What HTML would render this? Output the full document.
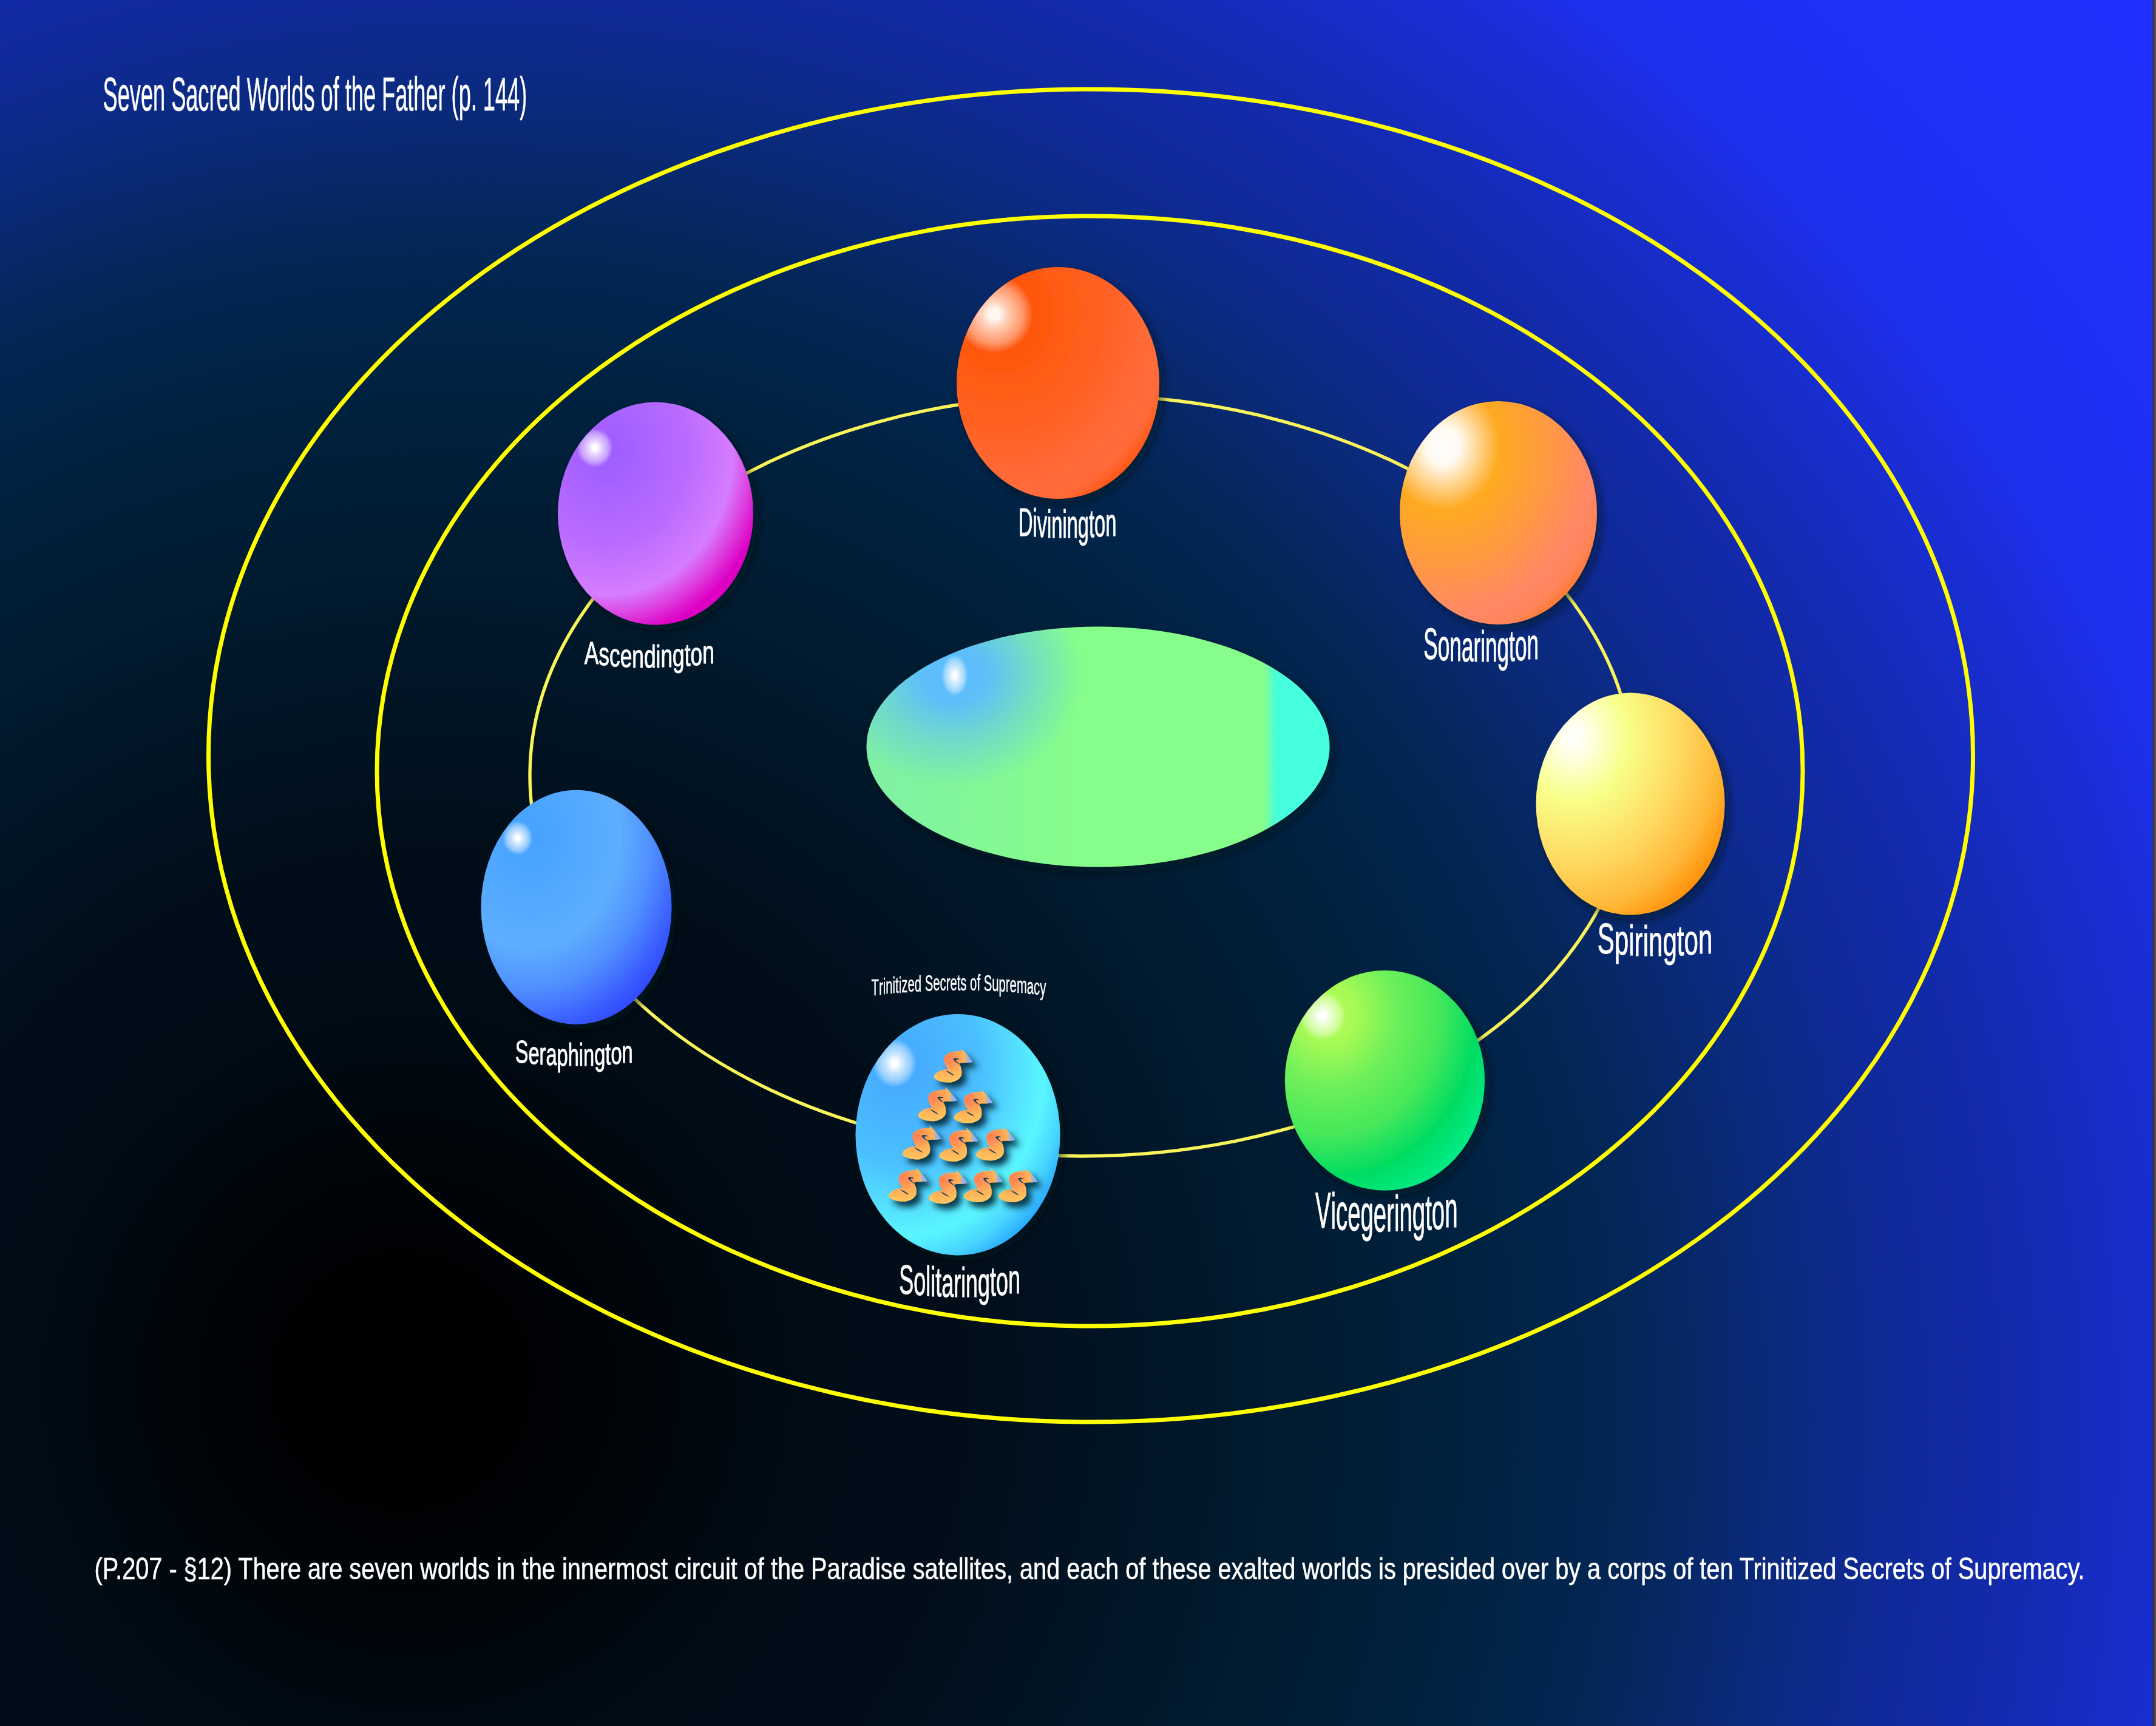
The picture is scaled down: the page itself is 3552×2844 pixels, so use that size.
<!DOCTYPE html>
<html><head><meta charset="utf-8"><title>Seven Sacred Worlds of the Father</title>
<style>
html,body{margin:0;padding:0;background:#000;width:3552px;height:2844px;overflow:hidden}
svg{display:block}
text{font-family:"Liberation Sans",sans-serif;fill:#fff}
</style></head><body>
<svg width="3552" height="2844" viewBox="0 0 3552 2844">
<defs>
<radialGradient id="bg" gradientUnits="userSpaceOnUse" fx="650" fy="2270" cx="850" cy="2370" r="3600">
<stop offset="0" stop-color="#000000"/>
<stop offset="0.06" stop-color="#000103"/>
<stop offset="0.12" stop-color="#00060b"/>
<stop offset="0.17" stop-color="#000b15"/>
<stop offset="0.25" stop-color="#010e1a"/>
<stop offset="0.40" stop-color="#011c32"/>
<stop offset="0.46" stop-color="#00213e"/>
<stop offset="0.50" stop-color="#01244a"/>
<stop offset="0.53" stop-color="#032654"/>
<stop offset="0.60" stop-color="#0a2a7c"/>
<stop offset="0.65" stop-color="#0f2a98"/>
<stop offset="0.70" stop-color="#122aab"/>
<stop offset="0.79" stop-color="#1a2ed8"/>
<stop offset="0.82" stop-color="#1d30ec"/>
<stop offset="0.9" stop-color="#1f30f8"/>
<stop offset="1" stop-color="#2030ff"/>
</radialGradient>
<filter id="sh" x="-20%" y="-20%" width="150%" height="150%">
<feDropShadow dx="7" dy="8" stdDeviation="8" flood-color="#000814" flood-opacity="0.55"/>
</filter>
<filter id="shs" x="-30%" y="-30%" width="170%" height="170%">
<feDropShadow dx="8" dy="9" stdDeviation="5.5" flood-color="#062838" flood-opacity="0.9"/>
</filter>
<radialGradient id="hl" cx="0.5" cy="0.5" r="0.5">
<stop offset="0" stop-color="#fff" stop-opacity="1"/>
<stop offset="0.14" stop-color="#fff" stop-opacity="1"/>
<stop offset="0.35" stop-color="#fff" stop-opacity="0.75"/>
<stop offset="0.75" stop-color="#fff" stop-opacity="0.4"/>
<stop offset="1" stop-color="#fff" stop-opacity="0"/>
</radialGradient>
<!-- Divinington -->
<radialGradient id="gDiv" cx="0.22" cy="0.2" r="0.95">
<stop offset="0" stop-color="#ff5200"/>
<stop offset="0.5" stop-color="#ff6020"/>
<stop offset="0.82" stop-color="#ff6c3c"/>
<stop offset="0.89" stop-color="#ff6a36"/>
<stop offset="0.96" stop-color="#ff5614"/>
<stop offset="1" stop-color="#ff5010"/>
</radialGradient>
<!-- Ascendington -->
<radialGradient id="gAsc" cx="0.25" cy="0.22" r="0.95">
<stop offset="0" stop-color="#9c5cff"/>
<stop offset="0.45" stop-color="#bb6cff"/>
<stop offset="0.68" stop-color="#d67cff"/>
<stop offset="0.78" stop-color="#dd40e0"/>
<stop offset="0.88" stop-color="#dd00c4"/>
<stop offset="1" stop-color="#dd00bb"/>
</radialGradient>
<!-- Seraphington -->
<radialGradient id="gSer" cx="0.25" cy="0.2" r="0.95">
<stop offset="0" stop-color="#44a2ff"/>
<stop offset="0.5" stop-color="#5eaeff"/>
<stop offset="0.68" stop-color="#5090ff"/>
<stop offset="0.86" stop-color="#3a5cff"/>
<stop offset="1" stop-color="#2a3cff"/>
</radialGradient>
<!-- Solitarington -->
<radialGradient id="gSol" cx="0.22" cy="0.22" r="0.95">
<stop offset="0" stop-color="#44a6ff"/>
<stop offset="0.42" stop-color="#4cc0ff"/>
<stop offset="0.74" stop-color="#5af6ff"/>
<stop offset="0.85" stop-color="#48d6ff"/>
<stop offset="0.95" stop-color="#28a8ff"/>
<stop offset="1" stop-color="#2098ff"/>
</radialGradient>
<!-- Vicegerington -->
<radialGradient id="gVic" cx="0.22" cy="0.2" r="0.95">
<stop offset="0" stop-color="#b4ff55"/>
<stop offset="0.14" stop-color="#a8fa55"/>
<stop offset="0.34" stop-color="#70f05a"/>
<stop offset="0.58" stop-color="#45e85a"/>
<stop offset="0.78" stop-color="#00dc62"/>
<stop offset="1" stop-color="#00f090"/>
</radialGradient>
<!-- Spirington -->
<radialGradient id="gSpi" cx="0.2" cy="0.2" r="0.95">
<stop offset="0" stop-color="#ffffff"/>
<stop offset="0.06" stop-color="#fffff0"/>
<stop offset="0.3" stop-color="#f8ff88"/>
<stop offset="0.6" stop-color="#ffd860"/>
<stop offset="0.82" stop-color="#ffb838"/>
<stop offset="1" stop-color="#ff8a00"/>
</radialGradient>
<!-- Sonarington -->
<radialGradient id="gSon" cx="0.22" cy="0.2" r="0.95">
<stop offset="0" stop-color="#ffffff"/>
<stop offset="0.09" stop-color="#fffaf0"/>
<stop offset="0.3" stop-color="#ffaa22"/>
<stop offset="0.55" stop-color="#ff9a40"/>
<stop offset="0.8" stop-color="#ff8866"/>
<stop offset="0.9" stop-color="#ff8458"/>
<stop offset="1" stop-color="#ff7418"/>
</radialGradient>
<!-- central green -->
<linearGradient id="gCen" x1="0" y1="0" x2="1" y2="0">
<stop offset="0" stop-color="#80f0a4"/>
<stop offset="0.45" stop-color="#87fd8b"/>
<stop offset="0.858" stop-color="#87fd8b"/>
<stop offset="0.886" stop-color="#44ffdd"/>
<stop offset="1" stop-color="#44ffdd"/>
</linearGradient>
<radialGradient id="gCenB" gradientUnits="userSpaceOnUse" cx="1572" cy="1112" r="185" gradientTransform="translate(1572 1112) scale(1.15 1) translate(-1572 -1112)">
<stop offset="0" stop-color="#5cbcff" stop-opacity="1"/>
<stop offset="0.25" stop-color="#5cbcff" stop-opacity="0.95"/>
<stop offset="0.6" stop-color="#5cbcff" stop-opacity="0.45"/>
<stop offset="1" stop-color="#5cbcff" stop-opacity="0"/>
</radialGradient>
<radialGradient id="gS" cx="0.35" cy="0.3" r="0.75">
<stop offset="0" stop-color="#ff8050"/>
<stop offset="0.25" stop-color="#ff9255"/>
<stop offset="0.6" stop-color="#ffb458"/>
<stop offset="1" stop-color="#ffc860"/>
</radialGradient>
<linearGradient id="gSt" x1="0" y1="0" x2="1" y2="0">
<stop offset="0" stop-color="#88b0ff" stop-opacity="0"/>
<stop offset="0.8" stop-color="#88b0ff" stop-opacity="0"/>
<stop offset="0.9" stop-color="#88b0ff" stop-opacity="0.95"/>
<stop offset="1" stop-color="#88b0ff" stop-opacity="1"/>
</linearGradient>
<path id="sg" d="M52.7 7.9 C58 13 66 21 71.8 30 C66 31.3 60 31.4 54.3 31.4 C51 31.8 49.5 32.5 50 34 C53 38 54.2 44 53.7 50 C53 57 46 61.5 36.5 63.6 C26 64.5 12 62 8 55.5 C7 51 14 45 24 42.6 C26 42.2 28 42 30.8 41.8 C27.5 37 24.5 31 24.7 25 C25 18 33 13.5 45 12.5 C49 12.2 52 12 53.9 11.8 Z"/>
<path id="sgs" d="M50.5 25.6 C46 23.2 42 23.2 39.8 25.2 C42 29.5 47 32.5 51.5 34 C47.5 31 44.5 28.5 43.6 26.4 C45.5 25.6 48 25.8 50.5 25.6 Z M27.5 44 C32.5 46 37.5 48.5 42 52.5 C37.5 51.5 31.5 48.5 27.5 44 Z"/>
</defs>

<rect x="0" y="0" width="3552" height="2844" fill="url(#bg)"/>
<linearGradient id="gStrip" gradientUnits="userSpaceOnUse" x1="3546.5" y1="0" x2="3552" y2="0">
<stop offset="0" stop-color="#30322a"/>
<stop offset="0.35" stop-color="#3f3835"/>
<stop offset="0.6" stop-color="#474944"/>
<stop offset="1" stop-color="#5e5a5c"/>
</linearGradient>
<rect x="3546.6" y="0" width="5.4" height="2844" fill="url(#gStrip)"/>

<!-- orbits -->
<ellipse cx="1797" cy="1245" rx="1453.5" ry="1098" fill="none" stroke="#ffff00" stroke-width="7"/>
<ellipse cx="1795.5" cy="1270.5" rx="1174.5" ry="914.5" fill="none" stroke="#ffff00" stroke-width="7"/>
<ellipse cx="1782" cy="1278" rx="909" ry="627" fill="none" stroke="#f9f45a" stroke-width="5.4"/>

<!-- central ellipse -->
<g filter="url(#sh)">
<ellipse cx="1809" cy="1230.5" rx="381.5" ry="198" fill="url(#gCen)"/>
</g>
<clipPath id="cpCen"><ellipse cx="1809" cy="1230.5" rx="381.5" ry="198"/></clipPath>
<g clip-path="url(#cpCen)">
<ellipse cx="1572" cy="1115" rx="300" ry="260" fill="url(#gCenB)"/>
</g>
<ellipse cx="1573" cy="1113" rx="22" ry="34" fill="url(#hl)"/>

<!-- planets -->
<clipPath id="cDiv"><ellipse cx="1743" cy="631" rx="167" ry="191"/></clipPath>
<clipPath id="cAsc"><ellipse cx="1080" cy="846" rx="161" ry="183.5"/></clipPath>
<clipPath id="cSer"><ellipse cx="949.5" cy="1494.8" rx="157" ry="193"/></clipPath>
<clipPath id="cSol"><ellipse cx="1578" cy="1869.7" rx="168.5" ry="198.7"/></clipPath>
<clipPath id="cVic"><ellipse cx="2281.4" cy="1780.3" rx="164.6" ry="181.2"/></clipPath>

<ellipse cx="1743" cy="631" rx="167" ry="191" fill="url(#gDiv)" filter="url(#sh)"/>
<g clip-path="url(#cDiv)"><ellipse cx="1638" cy="518" rx="64" ry="64" fill="url(#hl)" opacity="0.95"/></g>

<ellipse cx="1080" cy="846" rx="161" ry="183.5" fill="url(#gAsc)" filter="url(#sh)"/>
<g clip-path="url(#cAsc)"><ellipse cx="980" cy="738" rx="30" ry="32" fill="url(#hl)"/></g>

<ellipse cx="949.5" cy="1494.8" rx="157" ry="193" fill="url(#gSer)" filter="url(#sh)"/>
<g clip-path="url(#cSer)"><ellipse cx="853" cy="1381" rx="25" ry="28" fill="url(#hl)"/></g>

<ellipse cx="1578" cy="1869.7" rx="168.5" ry="198.7" fill="url(#gSol)" filter="url(#sh)"/>
<g clip-path="url(#cSol)"><ellipse cx="1474" cy="1752" rx="36" ry="40" fill="url(#hl)"/></g>

<ellipse cx="2281.4" cy="1780.3" rx="164.6" ry="181.2" fill="url(#gVic)" filter="url(#sh)"/>
<g clip-path="url(#cVic)"><ellipse cx="2179" cy="1674" rx="38" ry="40" fill="url(#hl)"/></g>

<ellipse cx="2686" cy="1324.6" rx="155.5" ry="183" fill="url(#gSpi)" filter="url(#sh)"/>

<ellipse cx="2468.5" cy="845" rx="162.5" ry="184" fill="url(#gSon)" filter="url(#sh)"/>

<!-- S glyphs -->
<g fill="url(#gS)" filter="url(#shs)">
<use href="#sg" transform="translate(1530.6 1719.8)"/>
<use href="#sg" transform="translate(1504.5 1783.4)"/>
<use href="#sg" transform="translate(1563.6 1786.9)"/>
<use href="#sg" transform="translate(1478.5 1846.6)"/>
<use href="#sg" transform="translate(1539.3 1850.1)"/>
<use href="#sg" transform="translate(1600.1 1848.4)"/>
<use href="#sg" transform="translate(1456 1916)"/>
<use href="#sg" transform="translate(1522 1919.6)"/>
<use href="#sg" transform="translate(1580 1917)"/>
<use href="#sg" transform="translate(1637.3 1917)"/>
</g>
<g fill="url(#gSt)">
<use href="#sg" transform="translate(1530.6 1719.8)"/>
<use href="#sg" transform="translate(1504.5 1783.4)"/>
<use href="#sg" transform="translate(1563.6 1786.9)"/>
<use href="#sg" transform="translate(1478.5 1846.6)"/>
<use href="#sg" transform="translate(1539.3 1850.1)"/>
<use href="#sg" transform="translate(1600.1 1848.4)"/>
<use href="#sg" transform="translate(1456 1916)"/>
<use href="#sg" transform="translate(1522 1919.6)"/>
<use href="#sg" transform="translate(1580 1917)"/>
<use href="#sg" transform="translate(1637.3 1917)"/>
</g>
<g fill="#0c3c5c">
<use href="#sgs" transform="translate(1530.6 1719.8)"/>
<use href="#sgs" transform="translate(1504.5 1783.4)"/>
<use href="#sgs" transform="translate(1563.6 1786.9)"/>
<use href="#sgs" transform="translate(1478.5 1846.6)"/>
<use href="#sgs" transform="translate(1539.3 1850.1)"/>
<use href="#sgs" transform="translate(1600.1 1848.4)"/>
<use href="#sgs" transform="translate(1456 1916)"/>
<use href="#sgs" transform="translate(1522 1919.6)"/>
<use href="#sgs" transform="translate(1580 1917)"/>
<use href="#sgs" transform="translate(1637.3 1917)"/>
</g>

<!-- labels -->
<text x="169.6" y="181.7" font-size="78.5" textLength="698.6" lengthAdjust="spacingAndGlyphs" stroke="#fff" stroke-width="0.6">Seven Sacred Worlds of the Father (p. 144)</text>
<text x="1677.9" y="882.8 884.2 885.0 885.6 886.1 886.3 886.3 885.8 885.1 884.2 882.5" font-size="64.7" textLength="161.5" lengthAdjust="spacingAndGlyphs" stroke="#fff" stroke-width="0.9">Divinington</text>
<text x="962.8" y="1093.7 1096.1 1097.7 1099.0 1099.8 1100.0 1099.8 1099.4 1098.4 1097.2 1095.8 1093.4" font-size="51" textLength="214.0" lengthAdjust="spacingAndGlyphs" stroke="#fff" stroke-width="0.9">Ascendington</text>
<text x="2345.3" y="1085.7 1087.8 1089.2 1090.1 1090.4 1090.4 1090.2 1089.5 1088.6 1087.5 1085.5" font-size="72.5" textLength="189.7" lengthAdjust="spacingAndGlyphs" stroke="#fff" stroke-width="0.9">Sonarington</text>
<text x="848.7" y="1750.7 1752.9 1754.1 1755.0 1755.7 1756.0 1755.9 1755.6 1754.7 1753.8 1752.5 1750.5" font-size="51.6" textLength="194.0" lengthAdjust="spacingAndGlyphs" stroke="#fff" stroke-width="0.9">Seraphington</text>
<text x="2631.8" y="1571.0 1573.1 1574.1 1574.6 1574.9 1575.0 1574.6 1573.9 1572.8 1570.8" font-size="69.8" textLength="189.5" lengthAdjust="spacingAndGlyphs" stroke="#fff" stroke-width="0.9">Spirington</text>
<text x="2166.9" y="2022.6 2024.6 2025.9 2027.3 2028.4 2028.9 2029.0 2028.8 2028.4 2027.3 2026.2 2024.8 2022.4" font-size="84.3" textLength="234.6" lengthAdjust="spacingAndGlyphs" stroke="#fff" stroke-width="0.9">Vicegerington</text>
<text x="1481.3" y="2131.6 2134.0 2135.1 2135.6 2136.1 2136.7 2137.0 2137.0 2136.7 2135.9 2134.9 2133.6 2131.3" font-size="69.0" textLength="199.7" lengthAdjust="spacingAndGlyphs" stroke="#fff" stroke-width="0.9">Solitarington</text>
<text x="1435.6" y="1639.7 1638.6 1638.0 1637.2 1636.4 1636.0 1635.5 1635.0 1634.2 1633.5 1633.0 1632.5 1632.1 1631.8 1631.6 1631.5 1631.5 1631.5 1631.6 1631.8 1632.0 1632.1 1632.5 1633.1 1633.7 1634.3 1635.0 1636.2 1637.5 1638.7 1639.9" font-size="37.0" textLength="287.8" lengthAdjust="spacingAndGlyphs" stroke="#fff" stroke-width="0.4">Trinitized Secrets of Supremacy</text>
<text x="155.6" y="2602.4" font-size="49.5" textLength="3279.0" lengthAdjust="spacingAndGlyphs" stroke="#fff" stroke-width="0.6">(P.207 - §12) There are seven worlds in the innermost circuit of the Paradise satellites, and each of these exalted worlds is presided over by a corps of ten Trinitized Secrets of Supremacy.</text>
</svg>
</body></html>
